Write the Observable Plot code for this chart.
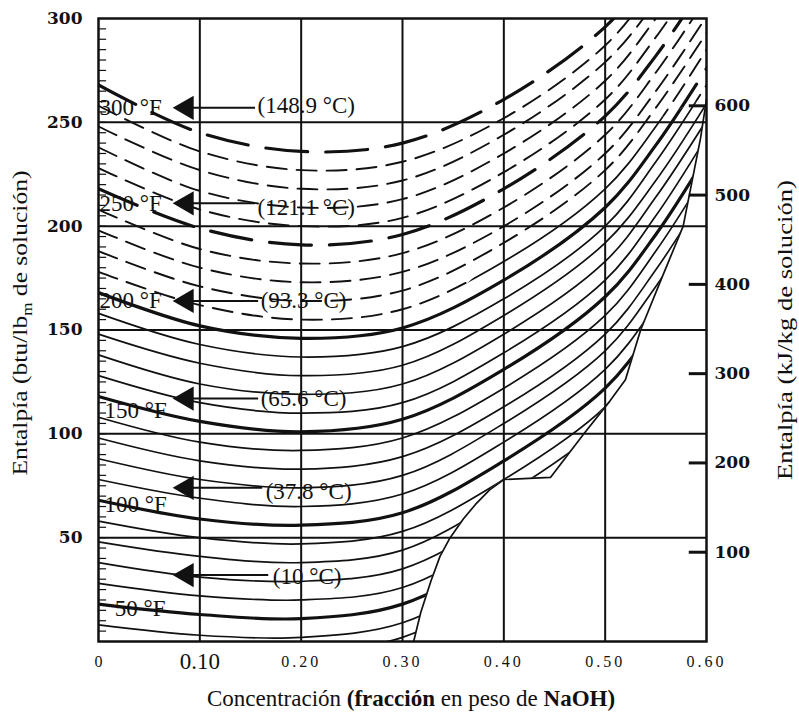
<!DOCTYPE html>
<html><head><meta charset="utf-8">
<script src="https://cdn.jsdelivr.net/npm/d3@7"></script>
<script src="https://cdn.jsdelivr.net/npm/@observablehq/plot@0.6"></script>
<style>
body{margin:0;background:#fff;}
#chart svg{display:block;}
</style></head><body><div id="chart"></div>
<script>
// Concentration grid (mass fraction NaOH) at which each isotherm is read
const concentrations = [0, 0.1, 0.2, 0.3, 0.4, 0.5, 0.55, 0.6];
// Enthalpy (btu/lb) of each isotherm (°F) at those concentrations
const h32  = [0, -4, -5, 2, 28, 63, 95, 135];
const h40  = [8, 3, 2, 9, 35, 70, 102, 142];
const h50  = [18, 13, 11, 18, 44, 79, 110, 150];
const h60  = [28, 22, 20, 26, 52, 87, 119, 159];
const h70  = [38, 31, 29, 35, 61, 96, 128, 167];
const h80  = [48, 41, 38, 44, 70, 105, 136, 175];
const h90  = [58, 50, 47, 53, 78, 113, 145, 184];
const h100 = [68, 59, 56, 62, 87, 122, 153, 192];
const h110 = [78, 69, 65, 71, 96, 131, 162, 201];
const h120 = [88, 78, 74, 80, 105, 140, 171, 209];
const h130 = [98, 87, 83, 89, 113, 148, 179, 217];
const h140 = [108, 96, 92, 98, 122, 157, 188, 226];
const h150 = [118, 106, 101, 107, 131, 166, 196, 234];
const h160 = [128, 115, 110, 115, 139, 174, 205, 243];
const h170 = [138, 124, 119, 124, 148, 183, 214, 251];
const h180 = [148, 134, 128, 133, 157, 192, 222, 259];
const h190 = [158, 143, 137, 142, 165, 200, 231, 268];
const h200 = [168, 152, 146, 151, 174, 209, 239, 276];
const h210 = [178, 162, 155, 160, 183, 218, 248, 285];
const h220 = [188, 171, 164, 169, 192, 227, 257, 293];
const h230 = [198, 180, 173, 178, 200, 235, 265, 301];
const h240 = [208, 189, 182, 187, 209, 244, 274, 310];
const h250 = [218, 199, 191, 196, 218, 253, 282, 318];
const h260 = [228, 208, 200, 204, 226, 261, 291, 327];
const h270 = [238, 217, 209, 213, 235, 270, 300, 335];
const h280 = [248, 227, 218, 222, 244, 279, 308, 343];
const h290 = [258, 236, 227, 231, 252, 287, 317, 352];
const h300 = [268, 245, 236, 240, 261, 296, 325, 360];
const isothermTemps = [32,40,50,60,70,80,90,100,110,120,130,140,150,160,170,180,190,200,210,220,230,240,250,260,270,280,290,300];
const isothermValues = [h32,h40,h50,h60,h70,h80,h90,h100,h110,h120,h130,h140,h150,h160,h170,h180,h190,h200,h210,h220,h230,h240,h250,h260,h270,h280,h290,h300];

// Solid-phase (saturation) boundary
const boundaryX = [0.311, 0.318, 0.328, 0.337, 0.347, 0.36, 0.372, 0.386, 0.4, 0.446, 0.479, 0.505, 0.52, 0.535, 0.555, 0.577, 0.594, 0.6];
const boundaryH = [0, 14, 29, 41, 50, 59, 66, 73, 78, 79, 100, 116, 126, 150, 174, 200, 242, 261];

// Line between solid-drawn (below) and dashed-drawn (above) parts of the isotherms
const dividerX = [0, 0.1, 0.2, 0.3, 0.35, 0.4, 0.45, 0.5, 0.55, 0.6];
const dividerH = [173, 157, 150.5, 155.5, 166, 188, 205, 225, 251, 262];

// Axes
const gridX = [0.1, 0.2, 0.3, 0.4, 0.5];
const gridY = [50, 100, 150, 200, 250];
const leftTicks = [50, 100, 150, 200, 250, 300];
const kjTicks = [100, 200, 300, 400, 500, 600];
const xTicks = [0, 0.1, 0.2, 0.3, 0.4, 0.5, 0.6];
const xTickLabels = ["0", "0.10", "0.20", "0.30", "0.40", "0.50", "0.60"];
const minorTicks = d3.range(5, 300, 5);

// Annotations
const fLabels = ["300 °F", "250 °F", "200 °F", "150 °F", "100 °F", "50 °F"];
const cLabels = ["(148.9 °C)", "(121.1 °C)", "(93.3 °C)", "(65.6 °C)", "(37.8 °C)", "(10 °C)"];

const rows = [];
isothermTemps.forEach((T, k) => isothermValues[k].forEach((h, i) => rows.push({T, x: concentrations[i], h})));
const boundary = boundaryX.map((x, i) => ({x, h: boundaryH[i]}));
const divider = dividerX.map((x, i) => ({x, h: dividerH[i]}));
const fAnno = fLabels.map((t, i) => ({t, x: [0, 0, 0, 0.005, 0.005, 0.015][i], h: [257, 211, 164, 111, 66, 16][i]}));
const cAnno = cLabels.map((t, i) => ({t, x: [0.157, 0.157, 0.16, 0.16, 0.165, 0.172][i], h: [258, 209, 164, 117, 72, 31][i], end: [0.155, 0.155, 0.158, 0.158, 0.162, 0.168][i], ah: [257, 211, 164, 117, 74, 32][i]}));

const thick = T => T % 50 === 0;
const lineOpts = {x: "x", y: "h", z: "T", curve: "catmull-rom", stroke: "#111", clip: true, fill: "none"};
const thinRows = rows.filter(d => !thick(d.T));
const thickRows = rows.filter(d => thick(d.T));

const plot = Plot.plot({
  width: 799, height: 717,
  marginLeft: 98, marginRight: 93, marginTop: 18, marginBottom: 76,
  x: {domain: [0, 0.6], axis: null},
  y: {domain: [0, 300], axis: null},
  style: {background: "white", fontFamily: "Liberation Serif", fontSize: "16px", color: "#111"},
  marks: [
    // area #0, #1: zones used as clip paths
    Plot.areaY(divider, {x: "x", y1: -30, y2: "h", fill: "black"}),
    Plot.areaY(divider, {x: "x", y1: "h", y2: 330, fill: "black"}),
    // line #0..#3: isotherms
    Plot.line(thinRows, {...lineOpts, strokeWidth: 1.7}),
    Plot.line(thickRows, {...lineOpts, strokeWidth: 3.2}),
    Plot.line(thinRows, {...lineOpts, strokeWidth: 1.9, strokeDasharray: "20,10"}),
    Plot.line(thickRows, {...lineOpts, strokeWidth: 3.2, strokeDasharray: "42,18"}),
    // area #2: white mask beyond the saturation boundary
    Plot.areaX(boundary, {y: "h", x1: "x", x2: 0.6, fill: "white", curve: "linear"}),
    Plot.ruleX(gridX, {stroke: "#111", strokeWidth: 2}),
    Plot.ruleY(gridY, {stroke: "#111", strokeWidth: 2}),
    Plot.line(boundary, {x: "x", y: "h", stroke: "#111", strokeWidth: 1.7}),
    Plot.ruleY(minorTicks, {y: d => d, x1: 0, x2: 0.008, stroke: "#111", strokeWidth: 1.2}),
    Plot.ruleY(kjTicks, {y: d => d / 2.326, x1: 0.583, x2: 0.6, stroke: "#111", strokeWidth: 3}),
    Plot.frame({stroke: "#111", strokeWidth: 2.5}),
    // arrows
    Plot.ruleY(cAnno, {y: "ah", x1: 0.092, x2: "end", stroke: "#111", strokeWidth: 2}),
    Plot.dot(cAnno, {x: 0.087, y: "ah", symbol: "triangle", r: 9, rotate: -90, fill: "#111", stroke: null}),
    Plot.text(fAnno, {x: "x", y: "h", text: "t", textAnchor: "start", dx: 1, fontSize: 23, fill: "#111"}),
    Plot.text(cAnno, {x: "x", y: "h", text: "t", textAnchor: "start", fontSize: 23, fill: "#111"}),
    // axis labels
    Plot.text(leftTicks, {x: 0, y: d => d, text: d => String(d), textAnchor: "end", dx: -16, fontFamily: "DejaVu Serif", fontWeight: "bold", fontSize: 17, fill: "#111"}),
    Plot.text(kjTicks, {x: 0.6, y: d => d / 2.326, text: d => String(d), textAnchor: "start", dx: 8, fontFamily: "DejaVu Serif", fontWeight: "bold", fontSize: 17, fill: "#111"}),
    Plot.text(xTicks, {x: d => d, y: 0, dy: 20, text: (d, i) => xTickLabels[i], fontSize: (d, i) => i === 1 ? 23 : 16, textAnchor: "middle", fill: "#111"})
  ]
});
document.getElementById("chart").appendChild(plot);

const svg = d3.select(plot);
const areaGroups = svg.selectAll('g[aria-label="area"]').nodes();
const lineGroups = svg.selectAll('g[aria-label="line"]').nodes();
const textGroups = svg.selectAll('g[aria-label="text"]').nodes();

// turn the two zone areas into clip paths: isotherms solid below the divider, dashed above
const defs = svg.insert("defs", ":first-child");
function makeClip(g, id) {
  if (!g) return;
  const p = g.querySelector("path");
  const cp = defs.append("clipPath").attr("id", id);
  if (p) cp.append("path").attr("d", p.getAttribute("d")).attr("transform", g.getAttribute("transform"));
  g.remove();
}
makeClip(areaGroups[0], "clipSolid");
makeClip(areaGroups[1], "clipDash");
function wrap(node, id) {
  if (!node) return;
  const w = document.createElementNS("http://www.w3.org/2000/svg", "g");
  w.setAttribute("clip-path", `url(#${id})`);
  node.parentNode.insertBefore(w, node);
  w.appendChild(node);
}
wrap(lineGroups[0], "clipSolid");
wrap(lineGroups[1], "clipSolid");
wrap(lineGroups[2], "clipDash");
wrap(lineGroups[3], "clipDash");

const xtg = textGroups[textGroups.length - 1];
if (xtg) d3.select(xtg).selectAll("text").each(function() {
  const t = d3.select(this);
  if (t.text() !== "0.10" && t.text() !== "0") t.style("letter-spacing", "3px");
});
// x title
const xt = svg.append("text").attr("x", 411).attr("y", 706).attr("text-anchor", "middle")
  .attr("font-family", "Liberation Serif").attr("font-size", 23).attr("fill", "#111");
xt.append("tspan").text("Concentración ");
xt.append("tspan").attr("font-weight", "bold").text("(fracción");
xt.append("tspan").text(" en peso de ");
xt.append("tspan").attr("font-weight", "bold").text("NaOH)");
// left title
const lt = svg.append("text").attr("transform", "translate(27,323) rotate(-90)").attr("text-anchor", "middle")
  .attr("font-family", "Liberation Serif").attr("font-size", 21).attr("fill", "#111")
  .attr("textLength", 305).attr("lengthAdjust", "spacingAndGlyphs");
lt.append("tspan").text("Entalpía (btu/lb");
lt.append("tspan").attr("font-size", 14).attr("dy", 5).text("m");
lt.append("tspan").attr("dy", -5).text(" de solución)");
// right title
svg.append("text").attr("transform", "translate(792,330) rotate(-90)").attr("text-anchor", "middle")
  .attr("font-family", "Liberation Serif").attr("font-size", 21).attr("fill", "#111")
  .attr("textLength", 300).attr("lengthAdjust", "spacingAndGlyphs")
  .text("Entalpía (kJ/kg de solución)");
</script>
</body></html>
